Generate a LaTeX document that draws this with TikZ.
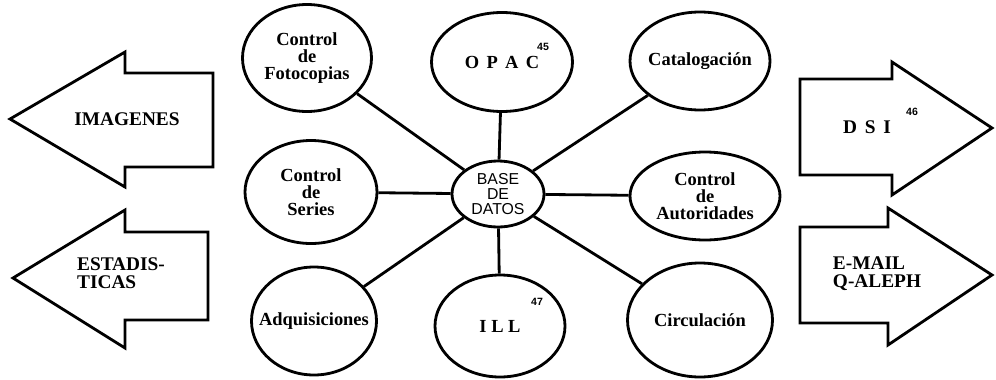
\documentclass[tikz,border=0pt]{standalone}
\usepackage{fontspec}
\setmainfont{Liberation Serif}
\setsansfont{Liberation Sans}
\usetikzlibrary{shapes.geometric}

\begin{document}
\begin{tikzpicture}[
	modulo/.style={draw, ellipse, line width=1.6pt, inner sep=0pt},
	txt/.style={font=\fontsize{10.5}{9.8}\selectfont\bfseries, align=center},
	flecha/.style={draw, line width=1.6pt, line join=miter},
	flechatxt/.style={font=\fontsize{11}{10.4}\selectfont\bfseries, align=left},
	nota/.style={font=\sffamily\bfseries\fontsize{6}{6}\selectfont, inner sep=0pt},
	enlace/.style={line width=1.6pt}
]
			% Modules of the system around the central database
			\useasboundingbox (0,0) rectangle (19.92,7.58);
			\node[modulo, minimum width=1.84cm, minimum height=1.32cm, label={[font=\sffamily\fontsize{9}{8.6}\selectfont, align=center]center:BASE\\DE\\DATOS}] (base) at (9.96,3.70) {};
			
			\node[modulo, minimum width=2.58cm, minimum height=2.14cm, label={[txt]center:Control\\de\\Fotocopias}] (fotocopias) at (6.14,6.42) {};
			\node[modulo, minimum width=2.82cm, minimum height=1.98cm, label={[txt]center:O\hspace{0.4em}P\hspace{0.4em}A\hspace{0.4em}C}] (opac) at (10.04,6.34) {};
			\node[modulo, minimum width=2.80cm, minimum height=1.96cm, label={[txt]center:Catalogación}] (catalogacion) at (14.00,6.36) {};
			\node[modulo, minimum width=2.64cm, minimum height=2.06cm, label={[txt]center:Control\\de\\Series}] (series) at (6.22,3.74) {};
			\node[modulo, minimum width=3.00cm, minimum height=1.76cm, label={[txt]center:Control\\de\\Autoridades}] (autoridades) at (14.10,3.66) {};
			\node[modulo, minimum width=2.50cm, minimum height=2.16cm, label={[txt]center:Adquisiciones}] (adquisiciones) at (6.28,1.16) {};
			\node[modulo, minimum width=2.60cm, minimum height=2.04cm, label={[txt]center:I L L}] (ill) at (10.00,1.06) {};
			\node[modulo, minimum width=2.90cm, minimum height=2.28cm, label={[txt]center:Circulación}] (circulacion) at (14.00,1.18) {};
			
			\node[nota] (nota45) at (10.86,6.64) {45};
			\node[nota] (nota47) at (10.74,1.54) {47};
			
			\foreach \m in {fotocopias,opac,catalogacion,series,autoridades,adquisiciones,ill,circulacion}
				\draw[enlace] (base) -- (\m);
			
			% Outputs on the left and right
			\draw[flecha] (0.20,5.20) -- (2.50,6.54) -- (2.50,6.12) -- (4.26,6.12) -- (4.26,4.24) -- (2.50,4.24) -- (2.50,3.84) -- cycle;
			\node[flechatxt] (imagenes) at (2.54,5.20) {IMAGENES};
			\draw[flecha] (0.26,2.02) -- (2.50,3.38) -- (2.50,2.94) -- (4.16,2.94) -- (4.16,1.18) -- (2.50,1.18) -- (2.50,0.62) -- cycle;
			\node[flechatxt] (estadisticas) at (2.42,2.12) {ESTADIS-\\TICAS};
			
			\draw[flecha] (16.00,6.00) -- (17.84,6.00) -- (17.84,6.34) -- (19.84,5.02) -- (17.84,3.68) -- (17.84,4.08) -- (16.00,4.08) -- cycle;
			\node[flechatxt] (dsi) at (17.34,5.04) {D\hspace{0.4em}S\hspace{0.4em}I};
			\node[nota] (nota46) at (18.24,5.34) {46};
			\draw[flecha] (16.00,3.04) -- (17.76,3.04) -- (17.76,3.42) -- (19.84,2.08) -- (17.76,0.68) -- (17.76,1.12) -- (16.00,1.12) -- cycle;
			\node[flechatxt] (email) at (17.54,2.10) {E-MAIL\\Q-ALEPH};
\end{tikzpicture}
\end{document}
